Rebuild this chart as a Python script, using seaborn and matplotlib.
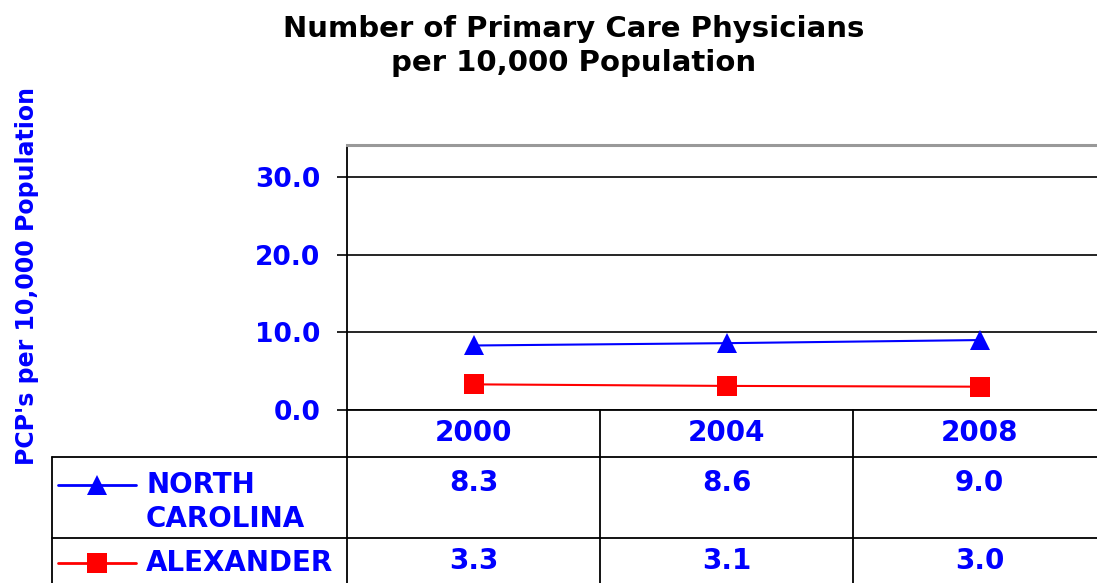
"""
Primary care physicians per 10,000 population - line chart with data table.
"""

import pandas as pd
import matplotlib
matplotlib.use('Agg')
import matplotlib.pyplot as plt
import seaborn as sns


years = ['2000', '2004', '2008']
series_names = ['NORTH CAROLINA', 'ALEXANDER']
north_carolina = [8.3, 8.6, 9.0]
alexander = [3.3, 3.1, 3.0]
y_ticks = [0.0, 10.0, 20.0, 30.0]

TITLE = 'Number of Primary Care Physicians\nper 10,000 Population'
Y_LABEL = "PCP's per 10,000 Population"

BLUE = '#0000ff'
RED = '#ff0000'
colors = {'NORTH CAROLINA': BLUE, 'ALEXANDER': RED}
markers = {'NORTH CAROLINA': '^', 'ALEXANDER': 's'}

W, H = 1097, 583


def build_frame():
    rows = []
    for name, values in zip(series_names, [north_carolina, alexander]):
        for i, (year, v) in enumerate(zip(years, values)):
            rows.append({'series': name, 'year': year, 'pos': i, 'value': v})
    return pd.DataFrame(rows)


def main():
    sns.set_style('white')
    plt.rcParams['font.family'] = ['DejaVu Sans']
    plt.rcParams['font.weight'] = 'bold'

    df = build_frame()
    fig = plt.figure(figsize=(W / 100, H / 100), dpi=100)

    # main plot area (right side runs past the image edge, as in the source)
    left_px, right_px, top_px, bottom_px = 347, 1106, 145, 410
    col_w = (right_px - left_px) / len(years)
    ax = fig.add_axes([left_px / W, (H - bottom_px) / H,
                       (right_px - left_px) / W, (bottom_px - top_px) / H])

    sns.lineplot(data=df, x='pos', y='value', hue='series', style='series',
                 palette=colors, markers=markers, dashes=False, legend=False,
                 markersize=15, linewidth=1.5, markeredgewidth=0, ax=ax)

    ax.set_xlim(-0.5, len(years) - 0.5)
    ax.set_ylim(0, 34.1)
    ax.set_xticks([])
    ax.set_yticks(y_ticks)
    ax.set_yticklabels([f'{t:.1f}' for t in y_ticks], color=BLUE,
                       fontsize=19, fontweight='bold')
    ax.tick_params(axis='y', direction='out', length=7.2, width=1.2,
                   color='black', pad=12, left=True)
    ax.set_xlabel('')
    ax.set_ylabel('')
    ax.grid(axis='y', color='black', linewidth=1.2)
    ax.grid(axis='x', visible=False)
    ax.set_axisbelow(True)
    ax.spines['top'].set_color('#999999')
    ax.spines['top'].set_linewidth(2.2)
    ax.spines['left'].set_color('black')
    ax.spines['left'].set_linewidth(1.3)
    ax.spines['bottom'].set_color('black')
    ax.spines['bottom'].set_linewidth(1.3)
    ax.spines['right'].set_visible(False)

    fig.text(574 / W, 1 - 46 / H, TITLE, ha='center', va='center',
             fontsize=21, fontweight='bold', color='black', linespacing=1.3)
    fig.text(27 / W, 1 - 276 / H, Y_LABEL, rotation=90, ha='center',
             va='center', fontsize=17, fontweight='bold', color=BLUE)

    # data table below the plot, x in category units, y in pixels
    table_left_px = 52
    tab = fig.add_axes([table_left_px / W, 0, (right_px - table_left_px) / W,
                        (H - bottom_px) / H])
    x0 = -0.5 - (left_px - table_left_px) / col_w
    tab.set_xlim(x0, len(years) - 0.5)
    tab.set_ylim(H - bottom_px, 0)
    tab.axis('off')

    def px(x):
        return -0.5 + (x - left_px) / col_w

    lw = 1.3
    row_lines = [457 - bottom_px, 538 - bottom_px]
    for y in row_lines:
        tab.plot([x0, len(years) - 0.5], [y, y], color='black', lw=lw,
                 clip_on=False)
    for i in range(len(years)):
        tab.plot([i - 0.5, i - 0.5], [0, H - bottom_px], color='black', lw=lw,
                 clip_on=False)
    tab.plot([x0, x0], [row_lines[0], H - bottom_px], color='black', lw=lw,
             clip_on=False)

    for i, year in enumerate(years):
        tab.text(i, 433 - bottom_px, year, ha='center', va='center',
                 fontsize=20, fontweight='bold', color=BLUE)

    row_y = [485 - bottom_px, 563 - bottom_px]
    label_y = [502 - bottom_px, 563 - bottom_px]
    for name, values, ry, ly in zip(series_names, [north_carolina, alexander],
                                    row_y, label_y):
        tab.plot([px(58), px(136)], [ry, ry], color=colors[name], lw=2,
                 clip_on=False)
        tab.plot([px(97)], [ry], marker=markers[name], color=colors[name],
                 markersize=15, markeredgewidth=0, clip_on=False)
        tab.text(px(146), ly, name.replace(' ', '\n'), ha='left', va='center',
                 fontsize=20, fontweight='bold', color=BLUE, linespacing=1.25)
        for i, v in enumerate(values):
            tab.text(i, ry - 2, f'{v:.1f}', ha='center', va='center',
                     fontsize=20, fontweight='bold', color=BLUE)

    fig.savefig('out.png', dpi=100)
    plt.close(fig)


if __name__ == '__main__':
    main()
